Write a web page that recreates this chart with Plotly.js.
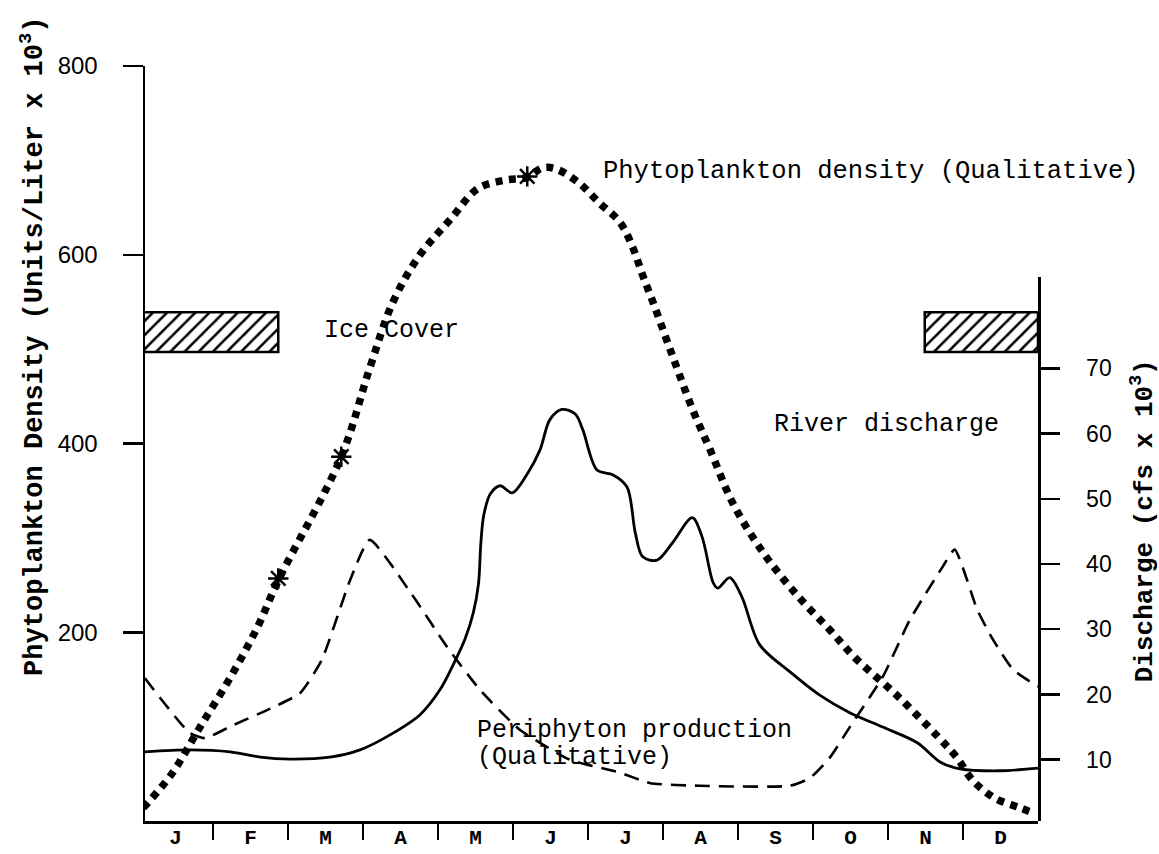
<!DOCTYPE html>
<html>
<head>
<meta charset="utf-8">
<script src="https://cdn.plot.ly/plotly-3.0.1.min.js"></script>
<style>html,body{margin:0;padding:0;background:#fff;}#chart{width:1159px;height:854px;}</style>
</head>
<body>
<div id="chart"></div>
<script>
// x values are in months (0 = start of January, 12 = end of December)
var monthLabels = ['J','F','M','A','M','J','J','A','S','O','N','D'];
var monthCenters = [0.5,1.5,2.5,3.5,4.5,5.5,6.5,7.5,8.5,9.5,10.5,11.5];
var monthBounds = [1,2,3,4,5,6,7,8,9,10,11];

// Phytoplankton density (left axis, units/liter x 10^3) - dotted
var phytoX = [0.07,0.45,0.83,1.23,1.59,1.87,2.71,3.09,3.4,3.76,4.16,4.53,4.89,5.19,5.39,5.57,5.88,6.15,6.43,6.6,6.73,6.87,7.13,7.4,7.63,7.93,8.33,8.79,9.23,9.56,10.12,10.67,10.92,11.13,11.43,11.76,11.95];
var phytoY = [14,50,100,152,205,255,386,480,550,600,637,670,679,682,692,691,676,655,634,607,578,549,492,435,393,337,285,239,202,173,133,89,67,43,24,14,8];

// Sample points marked with asterisks
var starX = [1.87,2.71,5.19];
var starY = [257,386,683];

// River discharge (right axis, cfs x 10^3) - solid
var riverX = [0.09,0.69,1.23,1.63,2.03,2.56,2.96,3.36,3.76,4.03,4.2,4.36,4.47,4.54,4.57,4.61,4.7,4.83,4.99,5.2,5.36,5.49,5.65,5.83,5.93,6.12,6.33,6.52,6.63,6.73,6.92,7.13,7.39,7.52,7.67,7.73,7.89,8.05,8.29,8.69,9.09,9.49,9.93,10.39,10.7,10.96,11.49,12];
var riverY = [11.2,11.5,11.2,10.4,10.1,10.4,11.5,13.8,16.9,20.8,24.5,28.5,32.5,37,43,47.5,50.8,52,50.9,54,57.5,62.1,63.7,63,60.6,54.4,53.7,51.8,44.8,41.1,40.6,43.3,47.1,44.2,37.1,36.3,37.9,35,27.6,23.5,19.9,17.2,15,12.6,9.6,8.6,8.3,8.7];

// Periphyton production (qualitative, drawn on right axis scale) - dashed
var periX = [0.09,0.69,0.89,1.27,1.72,2.16,2.45,2.83,3.09,3.67,4.12,4.56,5.09,5.76,6.43,6.83,7.49,8.69,8.96,9.23,9.49,9.93,10.29,10.73,10.89,11.19,11.4,11.67,12];
var periY = [22.5,14.1,13.3,15.3,17.6,20.2,25.3,37.6,43.7,35,27.3,20.7,14.6,10,8,6.4,6,6,7.2,10.4,15,22.7,31.4,39.6,42.2,33,28.4,23.8,21.2];

// Ice cover periods (months) and band on the left axis
var iceStart = [0.05,10.49];
var iceEnd = [1.87,12];
var iceLevel = [518,518];

var mono = 'Liberation Mono, Courier New, monospace';
var sans = 'Liberation Sans, Arial, sans-serif';

var traces = [
  {
    type:'bar', orientation:'h', xaxis:'x', yaxis:'y',
    y: iceLevel, base: iceStart,
    x: iceEnd.map(function(e,i){return e - iceStart[i];}),
    width: [42,42],
    marker:{color:'#fff', line:{color:'#000', width:2.5},
      pattern:{shape:'/', fgcolor:'#000', bgcolor:'#fff', size:10, solidity:0.25}},
    hoverinfo:'skip'
  },
  {
    type:'scatter', mode:'lines', xaxis:'x', yaxis:'y',
    x: phytoX, y: phytoY,
    line:{color:'#000', width:7.5, dash:'7px,6.5px', shape:'spline', smoothing:1},
    hoverinfo:'skip'
  },
  {
    type:'scatter', mode:'markers', xaxis:'x', yaxis:'y',
    x: starX, y: starY,
    marker:{symbol:'asterisk-open', size:17, color:'#000', line:{color:'#000', width:2.5}},
    hoverinfo:'skip'
  },
  {
    type:'scatter', mode:'lines', xaxis:'x', yaxis:'y2',
    x: riverX, y: riverY,
    line:{color:'#000', width:2.8, shape:'spline', smoothing:0.9},
    hoverinfo:'skip'
  },
  {
    type:'scatter', mode:'lines', xaxis:'x', yaxis:'y2',
    x: periX, y: periY,
    line:{color:'#000', width:2.6, dash:'15px,9px', shape:'spline', smoothing:0.5},
    hoverinfo:'skip'
  }
];

var layout = {
  width:1159, height:854,
  margin:{l:145, r:121, t:66, b:33},
  paper_bgcolor:'#fff', plot_bgcolor:'rgba(0,0,0,0)',
  showlegend:false,
  xaxis:{
    range:[0.093,12], showgrid:false, zeroline:false,
    showline:true, linecolor:'#000', linewidth:2.5,
    tickmode:'array', tickvals:monthCenters, ticktext:monthLabels,
    ticks:'', ticklabelstandoff:-5,
    tickfont:{family:mono, size:21, color:'#000', weight:'bold'},
    minor:{tickmode:'array', tickvals:monthBounds, ticks:'outside', ticklen:16, tickwidth:2, tickcolor:'#000', showgrid:false},
    anchor:'y', fixedrange:true
  },
  yaxis:{
    domain:[0,1], range:[0,800], showgrid:false, zeroline:false,
    showline:true, linecolor:'#000', linewidth:2.5,
    tickmode:'array', tickvals:[200,400,600,800],
    ticks:'outside', ticklen:20, tickwidth:2.5, tickcolor:'#000',
    ticklabelstandoff:20,
    tickfont:{family:sans, size:24, color:'#000'},
    anchor:'x', fixedrange:true
  },
  yaxis2:{
    domain:[0,0.7205], range:[0.6,84], side:'right', anchor:'x',
    showgrid:false, zeroline:false,
    showline:true, linecolor:'#000', linewidth:2.5,
    tickmode:'array', tickvals:[10,20,30,40,50,60,70],
    ticks:'outside', ticklen:19, tickwidth:2.5, tickcolor:'#000',
    ticklabelstandoff:22,
    tickfont:{family:sans, size:23, color:'#000'},
    fixedrange:true
  },
  annotations:[
    {xref:'paper', yref:'paper', x:-0.1254, y:0.628, textangle:-90, showarrow:false,
     xanchor:'center', yanchor:'middle',
     text:'Phytoplankton Density (Units/Liter x 10<sup>3</sup>)',
     font:{family:mono, size:27, color:'#000', weight:'bold'}},
    {xref:'paper', yref:'paper', x:1.1176, y:0.397, textangle:-90, showarrow:false,
     xanchor:'center', yanchor:'middle',
     text:'Discharge (cfs x 10<sup>3</sup>)',
     font:{family:mono, size:26, color:'#000', weight:'bold'}},
    {xref:'x', yref:'y', x:6.17, y:688, xanchor:'left', yanchor:'middle', showarrow:false,
     text:'Phytoplankton density (Qualitative)', font:{family:mono, size:25.5, color:'#000'}},
    {xref:'x', yref:'y', x:2.45, y:520, xanchor:'left', yanchor:'middle', showarrow:false,
     text:'Ice Cover', font:{family:mono, size:25, color:'#000'}},
    {xref:'x', yref:'y', x:8.45, y:420, xanchor:'left', yanchor:'middle', showarrow:false,
     text:'River discharge', font:{family:mono, size:25, color:'#000'}},
    {xref:'x', yref:'y', x:4.49, y:96, xanchor:'left', yanchor:'middle', showarrow:false,
     text:'Periphyton production', font:{family:mono, size:25, color:'#000'}},
    {xref:'x', yref:'y', x:4.49, y:67, xanchor:'left', yanchor:'middle', showarrow:false,
     text:'(Qualitative)', font:{family:mono, size:25, color:'#000'}}
  ]
};

Plotly.newPlot('chart', traces, layout, {staticPlot:true, displayModeBar:false});
</script>
</body>
</html>
